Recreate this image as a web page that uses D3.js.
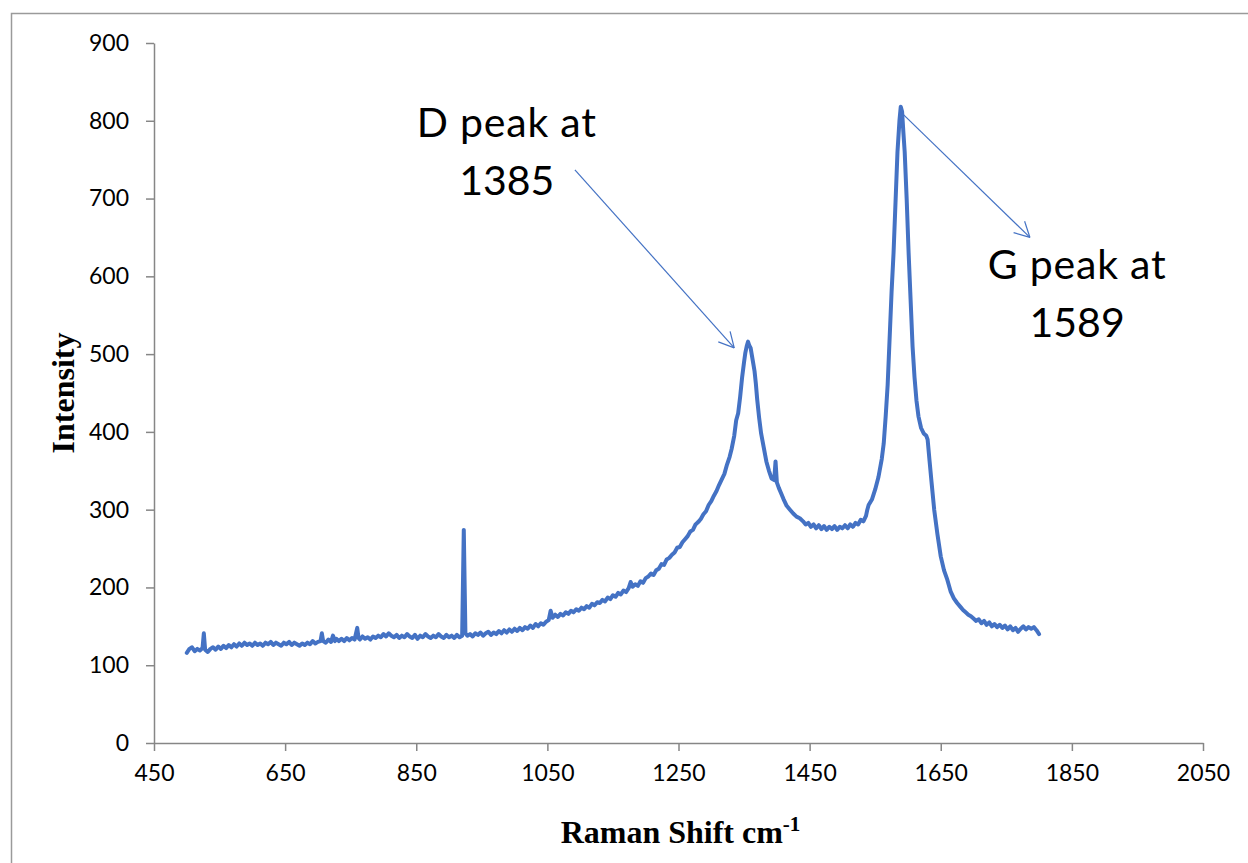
<!DOCTYPE html>
<html>
<head>
<meta charset="utf-8">
<script src="https://cdn.jsdelivr.net/npm/d3@7"></script>
<style>
  html, body { margin: 0; padding: 0; background: #fff; }
  svg { display: block; }
</style>
</head>
<body>
<svg id="chart" width="1248" height="863"></svg>
<script>
// Raman spectrum: [shift (cm^-1), intensity]
const spectrum = [
  [500,116],[504,121],[508,123],[512,118],[516,121],[520,119],[524,122],[526,141],[528,120],
  [532,117],[536,121],[540,123],[544,120],[548,124],[552,121],[556,125],[560,122],[564,126],
  [568,123],[572,127],[576,124],[580,128],[584,125],[588,129],[592,126],[596,128],[600,125],
  [604,129],[608,126],[612,128],[616,125],[620,129],[624,127],[628,130],[632,126],[636,129],
  [640,127],[644,125],[648,129],[652,127],[656,130],[660,126],[664,129],[668,127],[672,125],
  [676,128],[680,126],[684,129],[688,127],[692,131],[696,128],[700,130],[704,131],[706,141],
  [708,131],[712,129],[716,133],[720,130],[723,138],[726,131],[728,134],[732,131],[736,134],
  [740,131],[744,135],[748,132],[752,135],[756,133],[760,148],[762,135],[764,133],[768,137],
  [772,134],[776,136],[780,133],[784,137],[788,135],[792,138],[796,136],[800,140],[804,137],
  [808,141],[812,138],[816,136],[820,139],[824,135],[828,138],[832,136],[836,140],[840,137],
  [844,135],[848,139],[852,134],[856,138],[860,136],[864,140],[868,137],[872,135],[876,138],
  [880,136],[884,140],[888,137],[892,135],[896,139],[900,136],[904,138],[908,135],[912,139],
  [916,136],[920,138],[922.5,274],[925,141],[928,138],[932,140],[936,137],[940,141],[944,139],
  [948,142],[952,138],[956,141],[960,143],[964,139],[968,142],[972,140],[976,144],[980,141],
  [984,145],[988,142],[992,146],[996,143],[1000,147],[1004,144],[1008,148],[1012,145],
  [1016,149],[1020,147],[1024,151],[1028,148],[1032,153],[1036,150],[1040,154],[1044,152],
  [1048,156],[1052,158],[1055,170],[1058,161],[1062,165],[1066,162],[1070,166],[1074,164],
  [1078,168],[1082,166],[1086,170],[1090,168],[1094,172],[1098,170],[1102,174],[1106,172],
  [1110,176],[1114,174],[1118,179],[1122,177],[1126,181],[1130,180],[1134,184],[1138,182],
  [1142,187],[1146,185],[1150,190],[1154,188],[1158,193],[1162,191],[1166,196],[1170,194],
  [1174,199],[1177,207],[1180,201],[1184,204],[1188,202],[1192,208],[1196,206],[1200,212],
  [1204,214],[1208,218],[1212,216],[1216,222],[1220,224],[1224,230],[1228,229],[1232,236],
  [1236,238],[1240,242],[1244,245],[1248,251],[1252,252],[1256,258],[1260,262],[1264,266],
  [1268,272],[1272,274],[1276,281],[1280,284],[1284,288],[1288,294],[1292,298],[1296,306],
  [1300,311],[1304,318],[1308,324],[1312,332],[1316,339],[1320,346],[1324,358],[1328,368],
  [1331,378],[1335,395],[1338,415],[1341,424],[1344,445],[1347,470],[1350,490],[1352,502],
  [1354,510],[1356,516],[1358,511],[1360,508],[1362,498],[1364,488],[1366,478],[1368,462],
  [1370,442],[1373,418],[1376,398],[1380,380],[1384,362],[1388,350],[1392,340],[1396,338],
  [1398,362],[1400,335],[1403,328],[1406,322],[1410,314],[1415,305],[1420,300],[1425,295],
  [1430,291],[1435,289],[1440,285],[1444,281],[1448,283],[1452,278],[1456,281],[1460,276],
  [1464,280],[1468,275],[1472,279],[1476,274],[1480,278],[1484,275],[1488,279],[1492,274],
  [1496,278],[1500,276],[1504,280],[1508,276],[1512,281],[1516,278],[1520,283],[1524,281],
  [1528,287],[1532,285],[1536,292],[1538,300],[1540,306],[1545,313],[1550,326],[1555,342],
  [1560,365],[1563,385],[1566,420],[1569,460],[1572,520],[1575,580],[1578,630],[1581,695],
  [1584,760],[1587,800],[1589,818],[1591,812],[1593,785],[1595,760],[1598,700],[1601,630],
  [1604,570],[1607,510],[1610,470],[1613,440],[1616,420],[1620,405],[1624,398],[1628,395],
  [1630,390],[1633,362],[1636,335],[1640,300],[1645,268],[1650,240],[1655,222],[1660,210],
  [1665,195],[1670,186],[1675,180],[1680,175],[1684,171],[1688,168],[1692,165],[1696,163],
  [1700,160],[1704,157],[1708,159],[1712,154],[1716,157],[1720,152],[1724,155],[1728,150],
  [1732,153],[1736,149],[1740,152],[1744,148],[1748,151],[1752,146],[1756,150],[1760,145],
  [1764,148],[1768,143],[1772,147],[1776,150],[1780,146],[1784,149],[1788,147],[1792,149],
  [1796,145],[1800,140]
];

const xTicks = [450, 650, 850, 1050, 1250, 1450, 1650, 1850, 2050];
const yTicks = [0, 100, 200, 300, 400, 500, 600, 700, 800, 900];

// Callouts: label lines, label anchor, arrow start and arrow tip (data units)
const callouts = [
  { lines: ["D peak at", "1385"], at: [988, 779], from: [1092, 737], to: [1335, 508] },
  { lines: ["G peak at", "1589"], at: [1858, 597], from: [1588, 812], to: [1786, 650] }
];

const svg = d3.select("#chart");
const W = 1248, H = 863;
const plot = { left: 154, right: 1203, top: 43, bottom: 743 };

// Chart area frame (right and bottom edges run past the canvas)
svg.append("rect")
  .attr("x", 11.5).attr("y", 13.5)
  .attr("width", W + 40).attr("height", H + 40)
  .attr("fill", "#fff")
  .attr("stroke", "#9a9a9a").attr("stroke-width", 1.5);

const x = d3.scaleLinear().domain([450, 2050]).range([plot.left, plot.right]);
const y = d3.scaleLinear().domain([0, 900]).range([plot.bottom, plot.top]);

const axisColor = "#868686";
const tickFont = "Lato, 'Open Sans', sans-serif";

// Y axis
const gy = svg.append("g")
  .attr("transform", `translate(${plot.left},0)`)
  .call(d3.axisLeft(y).tickValues(yTicks).tickFormat(d3.format("d"))
    .tickSize(8).tickPadding(17).tickSizeOuter(0));
// X axis
const gx = svg.append("g")
  .attr("transform", `translate(0,${plot.bottom})`)
  .call(d3.axisBottom(x).tickValues(xTicks).tickFormat(d3.format("d"))
    .tickSize(8).tickPadding(14).tickSizeOuter(0));

[gx, gy].forEach(g => {
  g.select(".domain").attr("stroke", axisColor).attr("stroke-width", 1.5);
  g.selectAll(".tick line").attr("stroke", axisColor).attr("stroke-width", 1.5);
  g.selectAll(".tick text")
    .attr("fill", "#000")
    .style("font-family", tickFont)
    .style("font-size", "23px");
});

// Spectrum line
const line = d3.line()
  .x(d => x(d[0]))
  .y(d => y(d[1]));

svg.append("path")
  .datum(spectrum)
  .attr("d", line)
  .attr("fill", "none")
  .attr("stroke", "#4472C4")
  .attr("stroke-width", 4)
  .attr("stroke-linejoin", "round")
  .attr("stroke-linecap", "round");

// Callout arrows with open arrowheads
const arrowColor = "#4472C4";
callouts.forEach(c => {
  const x1 = x(c.from[0]), y1 = y(c.from[1]);
  const x2 = x(c.to[0]), y2 = y(c.to[1]);
  svg.append("line")
    .attr("x1", x1).attr("y1", y1).attr("x2", x2).attr("y2", y2)
    .attr("stroke", arrowColor).attr("stroke-width", 1.2);
  const ang = Math.atan2(y1 - y2, x1 - x2);
  const len = 17, spread = Math.PI / 6.5;
  [ang - spread, ang + spread].forEach(a => {
    svg.append("line")
      .attr("x1", x2).attr("y1", y2)
      .attr("x2", x2 + len * Math.cos(a)).attr("y2", y2 + len * Math.sin(a))
      .attr("stroke", arrowColor).attr("stroke-width", 1.2);
  });
  const t = svg.append("text")
    .attr("x", x(c.at[0])).attr("y", y(c.at[1]))
    .attr("text-anchor", "middle")
    .style("font-family", tickFont)
    .style("font-size", "41px")
    .attr("fill", "#000");
  c.lines.forEach((s, i) => {
    t.append("tspan").attr("x", x(c.at[0])).attr("dy", i === 0 ? 0 : 58)
      .style("letter-spacing", i === 0 ? "0.8px" : "0px")
      .text(s);
  });
});

// Axis titles
const titleFont = "'Liberation Serif', 'Times New Roman', serif";
const xt = svg.append("text")
  .attr("x", (plot.left + plot.right) / 2 + 2)
  .attr("y", 843)
  .attr("text-anchor", "middle")
  .style("font-family", titleFont)
  .style("font-weight", "bold")
  .style("font-size", "32px")
  .attr("fill", "#000");
xt.append("tspan").text("Raman Shift cm");
xt.append("tspan").attr("dy", -12).style("font-size", "21px").text("-1");

svg.append("text")
  .attr("transform", `translate(74,${(plot.top + plot.bottom) / 2}) rotate(-90)`)
  .attr("text-anchor", "middle")
  .style("font-family", titleFont)
  .style("font-weight", "bold")
  .style("font-size", "32px")
  .attr("fill", "#000")
  .text("Intensity");
</script>
</body>
</html>
